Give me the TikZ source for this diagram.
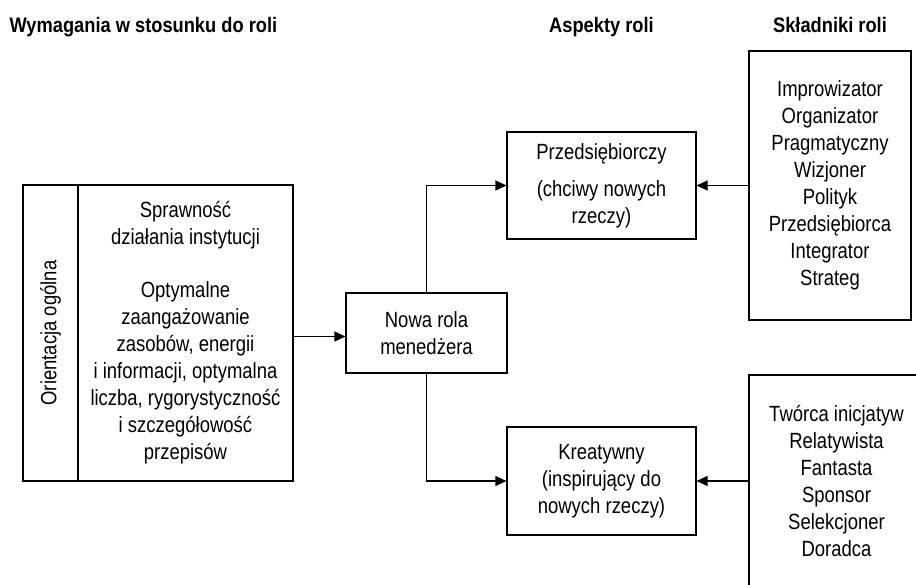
\documentclass[tikz,border=0pt]{standalone}
\usepackage{fontspec}
\usetikzlibrary{arrows.meta}
\newfontfamily\diafont[FakeStretch=0.84]{Liberation Sans}
\newfontfamily\headfont[FakeStretch=0.87]{Liberation Sans}
\begin{document}
\begin{tikzpicture}[x=1pt,y=-1pt,
  line width=1.1pt,
  box/.style={draw, rectangle, align=center, inner sep=0pt,
    font=\diafont\fontsize{22}{27}\selectfont},
  head/.style={anchor=base, inner sep=0pt,
    font=\headfont\bfseries\fontsize{21}{24}\selectfont},
  arr/.style={-{Triangle[length=11pt,width=10pt]}},
]
\clip (0,0) rectangle (916,584);

% requirements column
\node[box, minimum width=215pt, minimum height=296pt] (req) at (185.5,333)
  {Sprawność\\działania instytucji\\[26pt]Optymalne\\zaangażowanie\\zasobów, energii\\i informacji, optymalna\\liczba, rygorystyczność\\i szczegółowość\\przepisów};
\node[box, rotate=90, minimum width=296pt, minimum height=55pt] (orient) at (50.5,333)
  {Orientacja ogólna};

% central node
\node[box, minimum width=161pt, minimum height=80pt] (nowa) at (426.5,333)
  {Nowa rola\\menedżera};

% role aspects
\node[box, minimum width=189pt, minimum height=107pt] (przed) at (601.5,185.5)
  {Przedsiębiorczy\\[10pt](chciwy nowych\\rzeczy)};
\node[box, minimum width=189pt, minimum height=108pt] (kreat) at (601.5,481)
  {Kreatywny\\(inspirujący do\\nowych rzeczy)};

% role components
\node[box, minimum width=162pt, minimum height=269pt] (skl1) at (830,185.5)
  {Improwizator\\Organizator\\Pragmatyczny\\Wizjoner\\Polityk\\Przedsiębiorca\\Integrator\\Strateg};
\node[box, minimum width=175pt, minimum height=212pt] (skl2) at (836.5,481)
  {Twórca inicjatyw\\Relatywista\\Fantasta\\Sponsor\\Selekcjoner\\Doradca};

% column headings
\node[head, anchor=base west] (t1) at (9,32) {Wymagania w stosunku do roli};
\node[head] (t2) at (przed.center |- 0,32) {Aspekty roli};
\node[head] (t3) at (skl1.center |- 0,32) {Składniki roli};

% connectors
\draw[arr] ([yshift=-3.5pt]req.east) -- ([yshift=-3.5pt]nowa.west);
\draw[arr] (nowa.north) |- (przed.west);
\draw[arr] (nowa.south) |- (kreat.west);
\draw[arr] (skl1.west) -- (przed.east);
\draw[arr] (skl2.west |- kreat.east) -- (kreat.east);
\end{tikzpicture}
\end{document}
